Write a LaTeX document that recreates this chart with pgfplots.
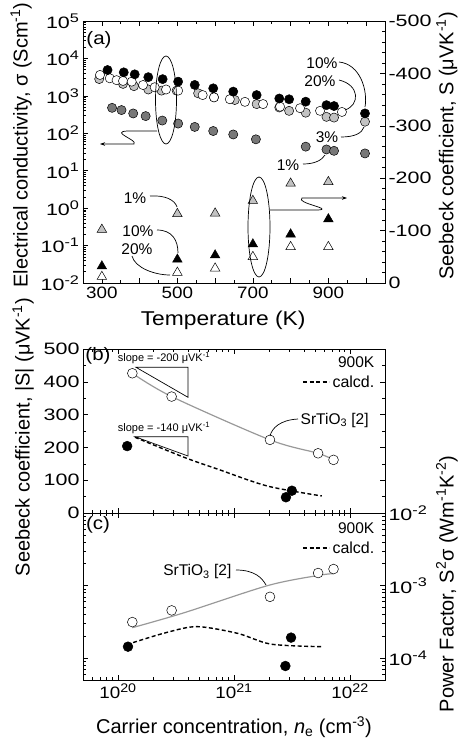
\documentclass[border=0pt]{standalone}
\usepackage{fontspec}
\setmainfont{Liberation Sans}
\newfontfamily\fX{Liberation Sans}[FakeStretch=1.14]
\newfontfamily\fY{Liberation Sans}[FakeStretch=1.3]
\usepackage{pgfplots}
\pgfplotsset{compat=1.18}
\usetikzlibrary{arrows.meta}
\definecolor{dg}{gray}{0.47}
\definecolor{lg}{gray}{0.76}
\definecolor{lineg}{gray}{0.6}
\newcommand\fxt{\fX\fontsize{16.5}{18}\selectfont}
\newcommand\fyt{\fY\fontsize{16.5}{18}\selectfont}
\newcommand\fpl{\fX\fontsize{18}{20}\selectfont}
\newcommand\fl{\fontsize{20}{22}\selectfont}
\newcommand\fp{\fontsize{15.5}{17}\selectfont}
\newcommand\fs{\fontsize{11}{13}\selectfont}
\newcommand\sps[1]{\textsuperscript{#1}}
\newcommand\tsp[1]{\textsuperscript{\fontsize{12.5}{12.5}\selectfont #1}}
\pgfplotsset{
  every axis/.append style={scale only axis, axis line style={line width=0.8pt},
    tick style={line width=0.6pt, black}, major tick length=5pt, minor tick length=3pt,
    tick align=inside},
  xticklabel style={font=\fxt},
  yticklabel style={font=\fyt},
  every axis label/.append style={font=\fl},
  cA/.style={only marks, mark=*, mark size=4.6pt, mark options={draw=black, line width=0.5pt, fill=#1}},
  tA/.style={only marks, mark=triangle*, mark size=5.5pt, mark options={draw=black, line width=0.5pt, fill=#1}},
  cB/.style={only marks, mark=*, mark size=4.9pt, mark options={draw=black, line width=0.5pt, fill=#1}},
}
\begin{document}
\begin{tikzpicture}
\useasboundingbox (0pt,0pt) rectangle (460pt,-740pt);
% ---------------- panel (a), left axis
\begin{axis}[at={(83pt,-21pt)}, anchor=north west, width=302pt, height=262pt,
  xmin=250, xmax=1050, ymode=log, ymin=1e-2, ymax=1e5,
  ytick={1e-2,1e-1,1,1e1,1e2,1e3,1e4,1e5},
  yticklabels={10\tsp{-2},10\tsp{-1},10\tsp{0},10\tsp{1},10\tsp{2},10\tsp{3},10\tsp{4},10\tsp{5}},
  minor ytick={0.02,0.03,0.04,0.05,0.06,0.07,0.08,0.09,0.2,0.3,0.4,0.5,0.6,0.7,0.8,0.9,2,3,4,5,6,7,8,9,20,30,40,50,60,70,80,90,200,300,400,500,600,700,800,900,2000,3000,4000,5000,6000,7000,8000,9000,20000,30000,40000,50000,60000,70000,80000,90000},
  ytick pos=left, xtick pos=both,
  xtick={300,400,500,600,700,800,900,1000}, xticklabels={300,,500,,700,,900,},
  minor xtick={250,350,450,550,650,750,850,950,1050},
  xlabel={\fX Temperature (K)},
  xlabel style={at={(axis description cs:0.464,-0.141)}, anchor=center},
  ylabel={Electrical conductivity, σ (Scm\sps{-1})},
  ylabel style={at={(axis description cs:-0.205,0.527)}, anchor=center},
]
\addplot[cA=dg] coordinates {(327,479)(352,417)(383,339)(416,288)(460,219)(502,182)(546,148)(595,115)(648,93)(708,69)(840,44)(895,37)(915,34)(997,29)};
\addplot[cA=lg] coordinates {(293,2820)(356,2090)(385,1820)(423,1480)(458,1380)(498,1380)(555,1170)(597,912)(652,776)(710,603)(770,490)(796,398)(840,355)(895,275)(915,263)(997,204)};
\addplot[cA=white] coordinates {(295,3630)(321,2950)(339,2630)(356,2510)(379,2400)(409,1950)(440,1700)(470,1480)(502,1380)(567,1050)(597,912)(639,813)(679,692)(727,603)(772,513)(825,468)(878,398)(936,372)};
\addplot[cA=black] coordinates {(315,4900)(358,4250)(387,3760)(423,3160)(461,2800)(502,2400)(546,1960)(595,1590)(648,1300)(710,1050)(770,850)(796,810)(840,700)(895,565)(915,535)(997,340)};
\end{axis}
% ---------------- panel (a), right axis
\begin{axis}[at={(83pt,-21pt)}, anchor=north west, width=302pt, height=262pt,
  xmin=250, xmax=1050, axis x line=none, axis y line*=right,
  ymin=-500, ymax=0, y dir=reverse,
  ytick={-500,-400,-300,-200,-100,0}, yticklabels={-500,-400,-300,-200,-100,0},
  minor y tick num=4,
  ylabel={Seebeck coefficient, S (μVK\sps{-1})},
  ylabel style={at={(axis description cs:1.205,0.523)}, anchor=center},
]
\addplot[tA=lg] coordinates {(300,-102)(500,-132)(600,-133)(700,-157)(800,-190)(900,-193)};
\addplot[tA=black] coordinates {(300,-32)(500,-45)(600,-53)(700,-74)(800,-93)(900,-122)};
\addplot[tA=white] coordinates {(300,-12)(500,-20)(600,-28)(700,-50)(800,-69)(900,-69)};
\end{axis}
% ---------------- panel (b)
\begin{axis}[at={(83pt,-349pt)}, anchor=north west, width=302pt, height=164pt,
  xmode=log, xmin=5e19, xmax=2e22, xtick={1e20,1e21,1e22}, xticklabels={},
  minor xtick={6e19,7e19,8e19,9e19,2e20,3e20,4e20,5e20,6e20,7e20,8e20,9e20,2e21,3e21,4e21,5e21,6e21,7e21,8e21,9e21,2e22},
  xtick pos=both, ymin=0, ymax=500, ytick={0,100,200,300,400,500},
  yticklabels={0,100,200,300,400,500}, minor y tick num=1, ytick pos=both,
  ylabel={Seebeck coefficient, |S| (μVK\sps{-1})},
  ylabel style={at={(axis description cs:-0.198,0.463)}, anchor=center},
]
\addplot[lineg, line width=1.2pt, smooth] coordinates {(1.33e20,426)(2.9e20,355)(2.04e21,223)(5.3e21,182)(7.2e21,162)};
\addplot[black, line width=1.4pt, dash pattern=on 4pt off 2.5pt, smooth] coordinates {(1.4e20,231)(3.7e20,170)(7.2e20,134)(1.95e21,82)(5.7e21,52)};
\addplot[cB=white] coordinates {(1.33e20,426)(2.9e20,355)(2.04e21,223)(5.3e21,182)(7.2e21,162)};
\addplot[cB=black] coordinates {(1.2e20,204)(3.15e21,68)(2.8e21,48)};
\end{axis}
% ---------------- panel (c)
\begin{axis}[at={(83pt,-513pt)}, anchor=north west, width=302pt, height=167pt,
  xmode=log, ymode=log, xmin=5e19, xmax=2e22, ymin=5e-5, ymax=1e-2,
  xtick={1e20,1e21,1e22}, xticklabels={10\tsp{20},10\tsp{21},10\tsp{22}},
  minor xtick={6e19,7e19,8e19,9e19,2e20,3e20,4e20,5e20,6e20,7e20,8e20,9e20,2e21,3e21,4e21,5e21,6e21,7e21,8e21,9e21,2e22},
  ytick={1e-4,1e-3,1e-2}, yticklabels={10\tsp{-4},10\tsp{-3},10\tsp{-2}},
  minor ytick={6e-5,7e-5,8e-5,9e-5,2e-4,3e-4,4e-4,5e-4,6e-4,7e-4,8e-4,9e-4,2e-3,3e-3,4e-3,5e-3,6e-3,7e-3,8e-3,9e-3},
  ytick pos=both, yticklabel pos=right, xtick pos=both,
  xlabel={Carrier concentration, \textit{n}\textsubscript{e} (cm\sps{-3})},
  xlabel style={at={(axis description cs:0.5,-0.281)}, anchor=center},
  ylabel={Power Factor, S\sps{2}σ (Wm\sps{-1}K\sps{-2})},
  ylabel style={at={(axis description cs:1.205,0.575)}, anchor=center},
]
\addplot[lineg, line width=1.2pt, smooth] coordinates {(1.33e20,2.63e-4)(3.67e20,4.2e-4)(1.95e21,1.0e-3)(5.3e21,1.38e-3)(7.2e21,1.46e-3)};
\addplot[black, line width=1.4pt, dash pattern=on 4pt off 2.5pt, smooth] coordinates {(1.35e20,1.64e-4)(2.6e20,2.25e-4)(4.8e20,2.72e-4)(1.07e21,2.2e-4)(2.09e21,1.56e-4)(5.7e21,1.44e-4)};
\addplot[cB=white] coordinates {(1.33e20,3.14e-4)(2.9e20,4.55e-4)(2.04e21,7.0e-4)(5.3e21,1.49e-3)(7.2e21,1.69e-3)};
\addplot[cB=black] coordinates {(1.22e20,1.44e-4)(3.1e21,1.92e-4)(2.77e21,7.8e-5)};
\end{axis}
% ---------------- annotations (pixel frame)
\begin{scope}[x=1pt,y=-1pt, line width=0.7pt]
\node[font=\fpl] at (99,40) {(a)};
\draw (166,100) ellipse [x radius=10.5, y radius=44];
\draw[-{Stealth[length=5pt,width=3.5pt]}] (157,131) -- (127,131) .. controls (110,132) and (138,140) .. (134,144) -- (100,144);
\draw (259,227) ellipse [x radius=11, y radius=50];
\draw[-{Stealth[length=5pt,width=3.5pt]}] (270,210) -- (318,210) .. controls (335,209) and (295,203) .. (302,198) -- (347,198);
\node[font=\fp] at (322,63) {10\%};
\node[font=\fp] at (320,81) {20\%};
\node[font=\fp] at (327,137) {3\%};
\node[font=\fp] at (288,165) {1\%};
\draw (339,62) .. controls (360,64) and (368,90) .. (365,107);
\draw (339,80) .. controls (360,85) and (360,105) .. (345,110);
\draw (341,137) .. controls (355,137) and (362,133) .. (364,127);
\draw (303,164) .. controls (315,164) and (322,160) .. (325,155);
\node[font=\fp] at (135,198) {1\%};
\draw (150,196) .. controls (165,195) and (175,200) .. (177,207);
\node[font=\fp] at (138,231) {10\%};
\draw (157,230) .. controls (172,230) and (178,240) .. (178,253);
\node[font=\fp] at (137,249) {20\%};
\draw (132,256) .. controls (135,268) and (155,275) .. (170,275);
% panel (b)
\node[font=\fpl] at (98,356) {(b)};
\node[font=\fp, anchor=east] at (378,362) {900K};
\draw[line width=1.4pt, dash pattern=on 4pt off 2.5pt] (303,382) -- (329,382);
\node[font=\fontsize{16}{18}\selectfont, anchor=east] at (378,382) {calcd.};
\node[font=\fp, anchor=west] at (297,420) {SrTiO\textsubscript{3} [2]};
\draw (298,419) .. controls (280,420) and (272,428) .. (270,436);
\draw (136,367.3) -- (188,367.3) -- (188,397.3) -- cycle;
\node[font=\fs] at (164,358) {slope = -200 μVK\sps{-1}};
\draw (135,436.7) -- (188,436.7) -- (188,456) -- cycle;
\node[font=\fs] at (164,428) {slope = -140 μVK\sps{-1}};
% panel (c)
\node[font=\fpl] at (98,525) {(c)};
\node[font=\fp, anchor=east] at (378,528) {900K};
\draw[line width=1.4pt, dash pattern=on 4pt off 2.5pt] (303,548) -- (329,548);
\node[font=\fontsize{16}{18}\selectfont, anchor=east] at (378,548) {calcd.};
\node[font=\fp, anchor=east] at (235,571.7) {SrTiO\textsubscript{3} [2]};
\draw (236,570) .. controls (255,570) and (262,578) .. (266,585);
\end{scope}
\end{tikzpicture}
\end{document}
